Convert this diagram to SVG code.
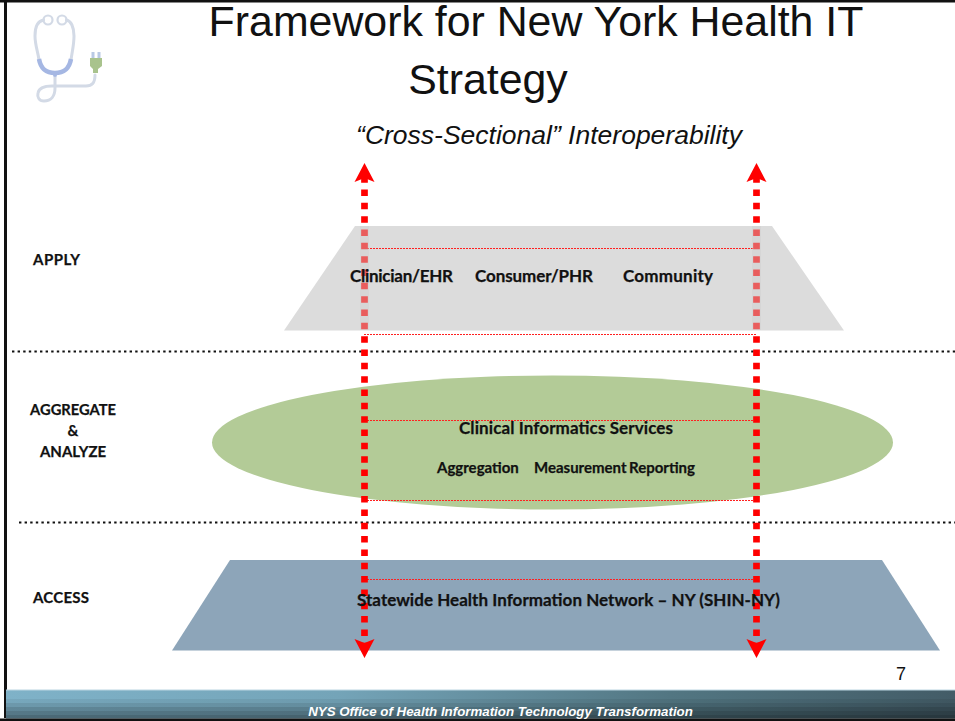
<svg xmlns="http://www.w3.org/2000/svg" width="955" height="721" viewBox="0 0 955 721">
<defs>
<linearGradient id="barH" x1="0" x2="1" y1="0" y2="0"><stop offset="0" stop-color="#7fb2c8"/><stop offset="0.35" stop-color="#74a4b8"/><stop offset="0.7" stop-color="#527682"/><stop offset="1" stop-color="#435c67"/></linearGradient>
<filter id="soft" x="-5%" y="-5%" width="110%" height="110%"><feGaussianBlur stdDeviation="0.5"/></filter>
</defs>
<style>
text{font-family:"Liberation Sans",Arial,sans-serif}
.b{font-family:Lato,"Open Sans",sans-serif;font-weight:700;fill:#111;stroke:#111;stroke-width:0.25}
.lab{font-size:15px}
.item{font-size:17px}
.sm{font-size:15px}
.dash{stroke:#111;stroke-width:2.200;stroke-dasharray:2.400 3.200;fill:none}
.thin{stroke:#ff2020;stroke-width:1;stroke-dasharray:2 1;fill:none}
.red{stroke:#ff0000;stroke-width:6.700;stroke-dasharray:6.500 6.830;fill:none}
.arrow{fill:#ff0000}
.st{fill:none;stroke:#d3dae6;stroke-width:3;stroke-linecap:round}
.band{fill:#000}
</style>
<rect width="955" height="721" fill="#fff"/>
<path d="M5.500,0V718" stroke="#111" stroke-width="3" fill="none"/>
<rect x="0" y="0" width="955" height="2.500" fill="#111"/>
<g id="footer">
<rect x="6" y="690" width="949" height="28.500" fill="url(#barH)"/>
<rect class="band" x="6" y="699" width="949" height="4" opacity="0.06"/>
<rect class="band" x="6" y="703" width="949" height="4" opacity="0.14"/>
<rect class="band" x="6" y="707" width="949" height="4" opacity="0.24"/>
<rect class="band" x="6" y="711" width="949" height="4" opacity="0.32"/>
<rect class="band" x="6" y="715" width="949" height="3.500" opacity="0.4"/>
<rect x="6" y="689.500" width="949" height="1" fill="#bcd6e2"/>
<rect x="0" y="718.500" width="955" height="2.500" fill="#111"/>
<text x="500.500" y="716" text-anchor="middle" font-size="13.300" font-weight="700" font-style="italic" fill="#fff">NYS Office of Health Information Technology Transformation</text>
</g>
<g id="logo" filter="url(#soft)">
<circle cx="48" cy="20" r="4.500" class="st" style="stroke-width:2.200"/>
<circle cx="62" cy="20" r="4.500" class="st" style="stroke-width:2.200"/>
<path class="st" d="M43.500,20C38,21 35,27 35,36C35,45 38,52 39,60"/>
<path class="st" d="M66.500,20C71,21 74,27 74,36C74,45 72,52 71,60"/>
<path d="M39,59C41,70 47,73 55,73C63,73 69,70 71,59" fill="none" stroke="#a5b7e3" stroke-width="4.500"/>
<path d="M52,72H58L56,78H54Z" fill="#a5b7e3"/>
<path class="st" d="M55,78V88C55,96 51,101 44,101C39,101 37,97 38,93C39,88 44,86 52,86H86C92,86 95,83 95,75"/>
<path d="M90,58H102V66L98,69V73H93V69L90,66Z" fill="#a9c38d"/>
<rect x="91.500" y="52" width="3" height="6" fill="#b9c9e4"/><rect x="97.500" y="52" width="3" height="6" fill="#b9c9e4"/>
</g>
<g id="title" fill="#111">
<text x="536" y="36" text-anchor="middle" font-size="42.850">Framework for New York Health IT</text>
<text x="488" y="94" text-anchor="middle" font-size="42.850">Strategy</text>
<text x="549" y="144" text-anchor="middle" font-size="26.500" font-style="italic">“Cross-Sectional” Interoperability</text>
</g>
<g id="dividers">
<path class="dash" d="M12,351.500H955"/>
<path class="dash" d="M19,522.500H955"/>
</g>
<g id="apply">
<path d="M355,226H772L844,330.500H284Z" fill="#dcdcdc"/>
<text class="b lab" x="33" y="265" textLength="47">APPLY</text>
</g>
<g id="aggregate">
<ellipse cx="552.500" cy="442.500" rx="340.500" ry="67" fill="#b3cb97"/>
<text class="b lab" x="73" y="415" text-anchor="middle" font-size="14.700" style="font-size:14.700px">AGGREGATE</text>
<text class="b lab" x="73" y="436" text-anchor="middle">&amp;</text>
<text class="b lab" x="73" y="457" text-anchor="middle">ANALYZE</text>
</g>
<g id="access">
<path d="M230,560H882L940,650.500H172Z" fill="#8da5b9"/>
<text class="b lab" x="33" y="603" textLength="56">ACCESS</text>
</g>
<g id="connectors">
<path class="thin" d="M364,248.500H756M364,334.500H756M364,420.500H756M364,500.500H756M364,579.500H756"/>
<path class="red" d="M364.500,176.200V644"/>
<path class="red" d="M756.500,176.200V644"/>
<path class="arrow" d="M364.500,163L374.500,182L364.500,178L354.500,182Z"/>
<path class="arrow" d="M756.500,163L766.500,182L756.500,178L746.500,182Z"/>
<path class="arrow" d="M364.500,658L374.500,639L364.500,643L354.500,639Z"/>
<path class="arrow" d="M756.500,658L766.500,639L756.500,643L746.500,639Z"/>
<path d="M360,226H369V330H360ZM752,226H761V330H752Z" fill="#cfcfcf" opacity="0.45"/>
</g>
<g id="labels">
<text class="b item" x="350" y="282" textLength="103">Clinician/EHR</text>
<text class="b item" x="475" y="282" textLength="118">Consumer/PHR</text>
<text class="b item" x="623" y="282" textLength="90">Community</text>
<text class="b item" x="459" y="434" textLength="214">Clinical Informatics Services</text>
<text class="b sm" x="437" y="473">Aggregation</text>
<text class="b sm" x="534" y="473">Measurement</text>
<text class="b sm" x="629" y="473">Reporting</text>
<text class="b item" x="357" y="606" textLength="423">Statewide Health Information Network – NY (SHIN-NY)</text>
</g>
<text id="page" x="901" y="680" text-anchor="middle" font-size="18" fill="#111">7</text>
</svg>
